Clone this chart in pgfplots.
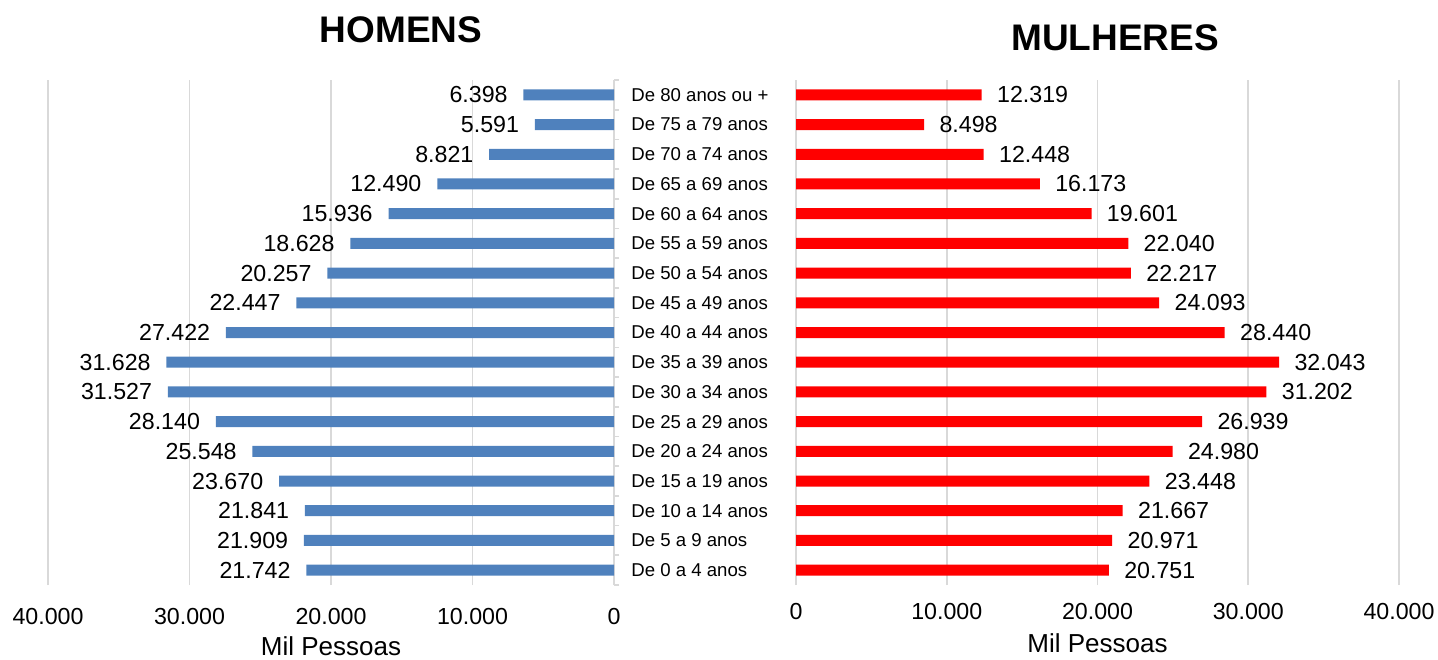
\documentclass[border=0pt]{standalone}
\usepackage{pgfplots}
\pgfplotsset{compat=1.18}
\usepackage{pgfplotstable}
\usepackage{fontspec}
\setmainfont{Liberation Sans}
\definecolor{menblue}{HTML}{4F81BD}
\definecolor{womenred}{HTML}{FF0000}
\definecolor{gridgray}{HTML}{D9D9D9}

\pgfplotstableread{
y m f
0 21742 20751
1 21909 20971
2 21841 21667
3 23670 23448
4 25548 24980
5 28140 26939
6 31527 31202
7 31628 32043
8 27422 28440
9 22447 24093
10 20257 22217
11 18628 22040
12 15936 19601
13 12490 16173
14 8821 12448
15 5591 8498
16 6398 12319
}\pyramid

\pgfplotsset{
  pyr/.style={
    scale only axis,
    height=252.5pt,
    ymin=-0.5, ymax=16.5,
    xbar, bar width=5.5pt,
    axis line style={draw=none},
    xmajorgrids,
    grid style={gridgray, line width=0.8pt},
    major tick length=0pt,
    clip=false,
    /pgf/number format/.cd, 1000 sep={.}, assume math mode=true,
    /pgfplots/.cd,
    xticklabel style={anchor=center, yshift=-13.5pt, font=\fontsize{11.6}{13}\selectfont},
    point meta=explicit,
    nodes near coords,
    every node near coord/.append style={font=\fontsize{11.6}{13}\selectfont, text=black},
  }
}

\begin{document}
\begin{tikzpicture}
\path[use as bounding box] (0,0) rectangle (719pt,329.5pt);

% Men (left)
\begin{axis}[pyr,
  at={(24pt,37pt)}, anchor=south west, width=283pt,
  xmin=-40000, xmax=0,
  xtick={-40000,-30000,-20000,-10000,0},
  xticklabels={40.000,30.000,20.000,10.000,0},
  ytick={-0.5,0.5,...,16.5}, yticklabels={},
  ytick pos=right, tick align=outside,
  ytick style={gridgray, line width=0.8pt},
  major tick length=2.5pt,
  xtick style={draw=none},
  every node near coord/.append style={anchor=east, xshift=-4.4pt},
]
\addplot[fill=menblue, draw=none] table[x expr=-\thisrow{m}, y=y, meta=m] {\pyramid};
\node[font=\fontsize{13}{15}\selectfont, anchor=base, inner sep=0pt] at (axis description cs:0.5,0) [yshift=-35pt] {Mil Pessoas};
\end{axis}

% Women (right)
\begin{axis}[pyr,
  at={(398pt,37pt)}, anchor=south west, width=301.5pt,
  xmin=0, xmax=40000,
  xtick={0,10000,20000,30000,40000},
  xticklabels={0,10.000,20.000,30.000,40.000},
  ytick={0,...,16},
  yticklabels={De 0 a 4 anos,De 5 a 9 anos,De 10 a 14 anos,De 15 a 19 anos,De 20 a 24 anos,De 25 a 29 anos,De 30 a 34 anos,De 35 a 39 anos,De 40 a 44 anos,De 45 a 49 anos,De 50 a 54 anos,De 55 a 59 anos,De 60 a 64 anos,De 65 a 69 anos,De 70 a 74 anos,De 75 a 79 anos,De 80 anos ou +},
  yticklabel style={anchor=west, inner sep=0pt, xshift=-82.5pt, font=\fontsize{9.3}{11}\selectfont},
  every node near coord/.append style={anchor=west, xshift=4.2pt},
]
\addplot[fill=womenred, draw=none] table[x=f, y=y, meta=f] {\pyramid};
\node[font=\fontsize{13}{15}\selectfont, anchor=base, inner sep=0pt] at (axis description cs:0.5,0) [yshift=-33.5pt] {Mil Pessoas};
\end{axis}

\node[font=\fontsize{18.5}{22}\selectfont\bfseries] at (200.5pt,314.5pt) {HOMENS};
\node[font=\fontsize{18.5}{22}\selectfont\bfseries] at (557.5pt,310.5pt) {MULHERES};
\end{tikzpicture}
\end{document}
